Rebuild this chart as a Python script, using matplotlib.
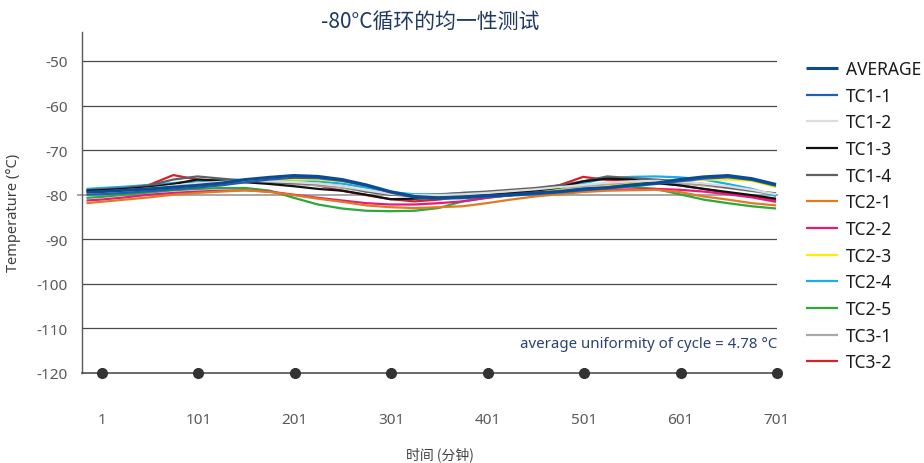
import matplotlib
matplotlib.use("Agg")
import matplotlib.pyplot as plt

plt.rcParams['font.family'] = ['Noto Sans', 'Noto Sans CJK SC', 'DejaVu Sans']
plt.rcParams['axes.unicode_minus'] = False

title = "-80°C循环的均一性测试"
xlabel = "时间 (分钟)"
ylabel = "Temperature (°C)"
note = "average uniformity of cycle = 4.78 °C"

time = [-15, 0, 25, 50, 75, 100, 125, 150, 175, 200, 225, 250, 275, 300, 325,
        350, 375, 400, 425, 450, 475, 500, 525, 550, 575, 600, 625, 650, 675, 700]

xticks = [1, 101, 201, 301, 401, 501, 601, 701]
yticks = [-50, -60, -70, -80, -90, -100, -110, -120]

average = [-79.4, -79.3, -79.0, -78.7, -78.3, -77.9, -77.4, -76.6, -76.1, -75.7, -75.9, -76.6, -77.8, -79.3, -80.4,
           -80.7, -80.5, -80.2, -80.0, -79.6, -79.3, -78.7, -78.4, -77.8, -77.4, -76.6, -76.0, -75.7, -76.4, -77.7]
tc1_1 = [-80.0, -79.9, -79.6, -79.2, -78.8, -78.4, -77.9, -77.2, -76.6, -76.2, -76.3, -76.9, -78.0, -79.5, -80.6,
         -80.9, -80.8, -80.5, -80.2, -79.9, -79.5, -79.0, -78.6, -78.1, -77.6, -77.0, -76.4, -76.1, -76.7, -78.0]
tc1_2 = [-79.5, -79.4, -79.0, -78.6, -78.0, -77.5, -77.1, -76.9, -77.0, -77.2, -77.5, -78.1, -79.0, -79.8, -80.1,
         -80.1, -79.9, -79.6, -79.2, -78.8, -78.3, -77.8, -77.3, -77.0, -76.9, -77.1, -77.5, -78.1, -78.9, -79.9]
tc1_3 = [-79.1, -79.0, -78.7, -78.3, -77.6, -76.6, -76.9, -77.2, -77.6, -78.1, -78.7, -79.1, -80.0, -81.0, -80.9,
         -80.7, -80.5, -80.1, -79.6, -79.1, -78.4, -77.0, -76.4, -76.6, -77.4, -77.9, -78.7, -79.4, -80.1, -80.9]
tc1_4 = [-79.0, -78.8, -78.5, -77.9, -76.6, -75.9, -76.4, -76.9, -77.2, -77.4, -77.6, -78.1, -79.3, -80.0, -80.2,
         -80.0, -79.6, -79.3, -78.9, -78.5, -77.9, -77.0, -75.9, -76.3, -76.6, -77.0, -77.6, -78.4, -79.1, -79.7]
tc2_1 = [-81.9, -81.6, -81.1, -80.6, -80.0, -79.6, -79.3, -79.0, -79.4, -80.1, -80.9, -81.6, -82.4, -82.8, -83.0,
         -82.8, -82.6, -81.9, -81.1, -80.4, -79.9, -79.4, -79.1, -79.0, -78.9, -79.4, -80.4, -81.1, -81.9, -82.4]
tc2_2 = [-81.3, -81.1, -80.6, -80.0, -79.6, -79.3, -79.1, -79.0, -79.3, -80.0, -80.7, -81.3, -81.9, -82.2, -82.2,
         -81.9, -81.5, -80.7, -80.1, -79.6, -79.3, -79.1, -78.9, -78.8, -78.7, -78.9, -79.3, -79.9, -80.6, -81.6]
tc2_3 = [-79.6, -79.5, -79.1, -78.7, -78.1, -77.5, -77.2, -76.9, -76.6, -76.6, -76.6, -77.0, -77.9, -79.4, -80.5,
         -80.7, -80.4, -80.1, -79.9, -79.4, -79.1, -78.7, -78.2, -77.6, -77.2, -76.9, -76.6, -76.6, -76.9, -78.3]
tc2_4 = [-78.7, -78.5, -78.2, -77.8, -77.4, -77.0, -76.7, -76.6, -76.6, -76.7, -77.0, -77.5, -78.4, -79.4, -79.9,
         -79.9, -79.6, -79.4, -79.1, -78.7, -78.1, -77.4, -76.3, -76.0, -75.9, -76.1, -76.6, -77.6, -78.7, -80.3]
tc2_5 = [-80.7, -80.5, -80.0, -79.5, -79.0, -78.7, -78.5, -78.5, -79.1, -80.7, -82.2, -83.1, -83.6, -83.7, -83.6,
         -83.0, -81.5, -80.7, -80.1, -79.6, -79.1, -78.7, -78.4, -78.2, -78.7, -79.9, -81.1, -81.9, -82.6, -83.1]
tc3_1 = [-79.8, -79.6, -79.2, -78.8, -78.3, -77.8, -77.4, -77.2, -77.3, -77.6, -77.9, -78.5, -79.3, -80.0, -80.3,
         -80.3, -80.1, -79.8, -79.4, -79.0, -78.6, -78.1, -77.7, -77.4, -77.3, -77.5, -77.9, -78.5, -79.2, -80.0]
tc3_2 = [-79.3, -79.1, -78.7, -77.8, -75.6, -76.6, -76.9, -76.9, -77.0, -77.4, -77.9, -79.1, -80.1, -81.0, -81.5,
         -81.1, -80.4, -79.9, -79.4, -78.9, -77.9, -76.0, -76.7, -77.0, -77.2, -77.9, -78.7, -79.6, -80.4, -81.2]

series = [
    ("AVERAGE", average, "#0d4a8f", 2.2),
    ("TC1-1", tc1_1, "#1f5fb0", 1.6),
    ("TC1-2", tc1_2, "#dcdcdc", 1.6),
    ("TC1-3", tc1_3, "#111111", 1.6),
    ("TC1-4", tc1_4, "#606060", 1.6),
    ("TC2-1", tc2_1, "#e07b20", 1.6),
    ("TC2-2", tc2_2, "#e6197f", 1.6),
    ("TC2-3", tc2_3, "#ffee00", 1.6),
    ("TC2-4", tc2_4, "#19aee8", 1.6),
    ("TC2-5", tc2_5, "#2ca83c", 1.6),
    ("TC3-1", tc3_1, "#a8a8a8", 1.6),
    ("TC3-2", tc3_2, "#d8202a", 1.6),
]

fig = plt.figure(figsize=(9.24, 4.64), dpi=100)
ax = fig.add_axes([82/924, 1-374/464, (777-82)/924, (374-33)/464])
ax.set_xlim(-19.7, 701)
ax.set_ylim(-120, -43.5)

for y in yticks[:-1]:
    if y == -80:
        continue
    ax.axhline(y, color="#4a4a4a", lw=0.9, zorder=1)
ax.axhline(-80, xmin=-0.006, xmax=1, color="#a6a6a6", lw=1.4, zorder=1.5, clip_on=False)

handles = {}
for name, vals, col, lw in reversed(series):
    ln, = ax.plot(time, vals, color=col, lw=lw, zorder=3 if name != "AVERAGE" else 4,
                  solid_capstyle="butt", solid_joinstyle="round", clip_on=False)
    handles[name] = ln

ax.plot(xticks, [-120]*len(xticks), "o", color="#333333", ms=7, zorder=5, clip_on=False)

for s in ["top", "right"]:
    ax.spines[s].set_visible(False)
ax.spines["left"].set_color("#595959")
ax.spines["left"].set_linewidth(1.0)
ax.spines["bottom"].set_color("#404040")
ax.spines["bottom"].set_linewidth(1.1)

ax.set_yticks(yticks)
ax.set_xticks(xticks)
ax.set_xticklabels([str(v) for v in xticks])
ax.tick_params(axis="y", length=0, pad=10, labelsize=11, labelcolor="#595959")
ax.tick_params(axis="x", length=0, pad=28, labelsize=11, labelcolor="#595959")

fig.text(430/924, 1-22/464, title, ha="center", va="center", fontsize=15,
         color="#1f3864", family=['Noto Sans CJK SC', 'DejaVu Sans'])
fig.text(440/924, 1-455/464, xlabel, ha="center", va="center", fontsize=10,
         color="#404040", family=['Noto Sans CJK SC', 'DejaVu Sans'])
fig.text(14/924, 1-213/464, ylabel, ha="center", va="center", rotation=90,
         fontsize=10.5, color="#404040")
ax.text(701, -113.4, note, ha="right", va="center", fontsize=10.8, color="#2a4270")

names = [s[0] for s in series]
leg = fig.legend([handles[n] for n in names], names, loc="upper left",
                 bbox_to_anchor=(806/924, 1-61/464), frameon=False, fontsize=12.5,
                 handlelength=1.85, handletextpad=0.45, labelspacing=0.5,
                 borderaxespad=0, borderpad=0)
for t in leg.get_texts():
    t.set_color("#1a1a1a")

fig.savefig("out.png", dpi=100)
